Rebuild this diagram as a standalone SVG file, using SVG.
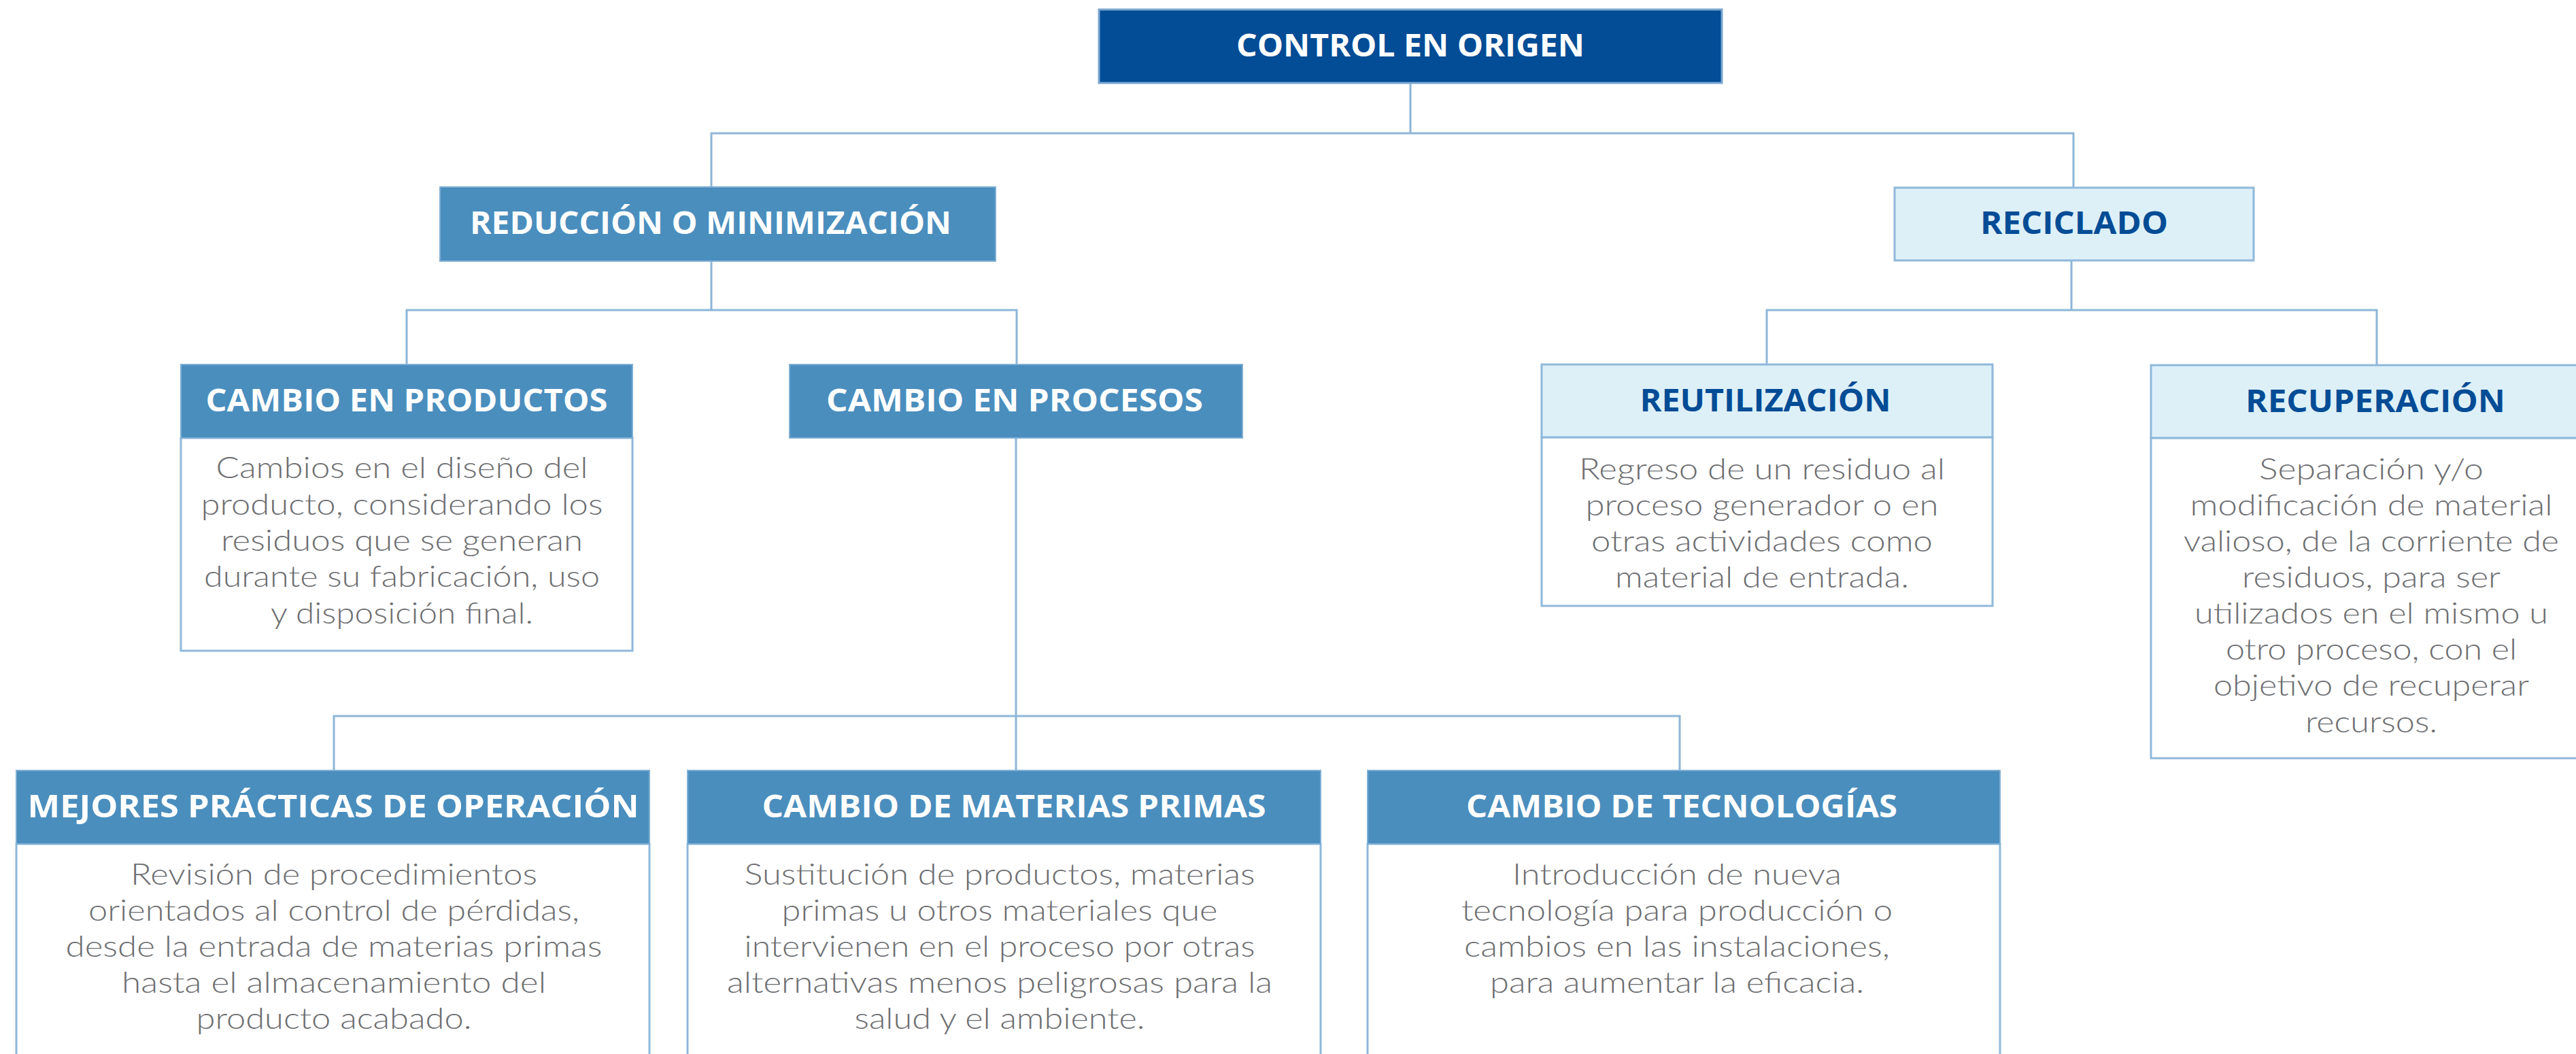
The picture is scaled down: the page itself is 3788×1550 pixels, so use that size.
<svg xmlns="http://www.w3.org/2000/svg" width="3788" height="1550" viewBox="0 0 3788 1550">
<style>
.conn{fill:none;stroke:#8DB6D8;stroke-width:3}
.dark{fill:#034C96;stroke:#7BA7D0;stroke-width:3}
.mid{fill:#4A8EBE;stroke:#7FAFD3;stroke-width:2}
.light{fill:#DDF0F8;stroke:#8FB8DA;stroke-width:3}
.body{fill:#FFFFFF;stroke:#8FB8DA;stroke-width:3}
.h{font-family:"Open Sans","Liberation Sans",sans-serif;font-weight:700;font-size:46px;text-anchor:middle}
.hw{fill:#FFFFFF}
.hb{fill:#034C96}
.t{font-family:Lato,"Open Sans","Liberation Sans",sans-serif;font-weight:300;font-size:44px;fill:#6D6E71;text-anchor:middle}
</style>
<rect width="3788" height="1550" fill="#FFFFFF"/>
<g id="connectors">
<path class="conn" d="M2074 122V196M1046 275V196H3049V276"/>
<path class="conn" d="M1046 384V456M598 536V456H1495V536"/>
<path class="conn" d="M3046 383V456M2598 536V456H3495V537"/>
<path class="conn" d="M1494 644V1133M491 1133V1053H2470V1133"/>
</g>
<g id="control-en-origen">
<rect class="dark" x="1616" y="14" width="916" height="108"/>
<text class="h hw" x="2074" y="83" textLength="512" lengthAdjust="spacingAndGlyphs">CONTROL EN ORIGEN</text>
</g>
<g id="reduccion">
<rect class="mid" x="647" y="275" width="817" height="109"/>
<text class="h hw" x="1045" y="344" textLength="708" lengthAdjust="spacingAndGlyphs">REDUCCIÓN O MINIMIZACIÓN</text>
</g>
<g id="reciclado">
<rect class="light" x="2786" y="276" width="528" height="107"/>
<text class="h hb" x="3050" y="344" textLength="276" lengthAdjust="spacingAndGlyphs">RECICLADO</text>
</g>
<g id="cambio-productos">
<rect class="body" x="266" y="644" width="664" height="313"/>
<rect class="mid" x="266" y="536" width="664" height="108"/>
<text class="h hw" x="598" y="605" textLength="591" lengthAdjust="spacingAndGlyphs">CAMBIO EN PRODUCTOS</text>
<text class="t" x="591" y="703" textLength="547" lengthAdjust="spacingAndGlyphs">Cambios en el diseño del</text>
<text class="t" x="591" y="757" textLength="591" lengthAdjust="spacingAndGlyphs">producto, considerando los</text>
<text class="t" x="591" y="810" textLength="532" lengthAdjust="spacingAndGlyphs">residuos que se generan</text>
<text class="t" x="591" y="863" textLength="582" lengthAdjust="spacingAndGlyphs">durante su fabricación, uso</text>
<text class="t" x="591" y="917" textLength="386" lengthAdjust="spacingAndGlyphs">y disposición final.</text>
</g>
<g id="cambio-procesos">
<rect class="mid" x="1161" y="536" width="666" height="108"/>
<text class="h hw" x="1492" y="605" textLength="554" lengthAdjust="spacingAndGlyphs">CAMBIO EN PROCESOS</text>
</g>
<g id="reutilizacion">
<rect class="body" x="2267" y="643" width="663" height="248"/>
<rect class="light" x="2267" y="536" width="663" height="107"/>
<text class="h hb" x="2596" y="605" textLength="369" lengthAdjust="spacingAndGlyphs">REUTILIZACIÓN</text>
<text class="t" x="2591" y="705" textLength="538" lengthAdjust="spacingAndGlyphs">Regreso de un residuo al</text>
<text class="t" x="2591" y="758" textLength="519" lengthAdjust="spacingAndGlyphs">proceso generador o en</text>
<text class="t" x="2591" y="811" textLength="502" lengthAdjust="spacingAndGlyphs">otras actividades como</text>
<text class="t" x="2591" y="864" textLength="432" lengthAdjust="spacingAndGlyphs">material de entrada.</text>
</g>
<g id="recuperacion">
<rect class="body" x="3163" y="644" width="640" height="471"/>
<rect class="light" x="3163" y="537" width="640" height="107"/>
<text class="h hb" x="3493" y="606" textLength="382" lengthAdjust="spacingAndGlyphs">RECUPERACIÓN</text>
<text class="t" x="3487" y="705" textLength="330" lengthAdjust="spacingAndGlyphs">Separación y/o</text>
<text class="t" x="3487" y="758" textLength="533" lengthAdjust="spacingAndGlyphs">modificación de material</text>
<text class="t" x="3487" y="811" textLength="552" lengthAdjust="spacingAndGlyphs">valioso, de la corriente de</text>
<text class="t" x="3487" y="864" textLength="380" lengthAdjust="spacingAndGlyphs">residuos, para ser</text>
<text class="t" x="3487" y="917" textLength="520" lengthAdjust="spacingAndGlyphs">utilizados en el mismo u</text>
<text class="t" x="3487" y="970" textLength="428" lengthAdjust="spacingAndGlyphs">otro proceso, con el</text>
<text class="t" x="3487" y="1023" textLength="464" lengthAdjust="spacingAndGlyphs">objetivo de recuperar</text>
<text class="t" x="3487" y="1077" textLength="194" lengthAdjust="spacingAndGlyphs">recursos.</text>
</g>
<g id="mejores-practicas">
<rect class="body" x="24" y="1241" width="931" height="320"/>
<rect class="mid" x="24" y="1133" width="931" height="108"/>
<text class="h hw" x="490" y="1202" textLength="899" lengthAdjust="spacingAndGlyphs">MEJORES PRÁCTICAS DE OPERACIÓN</text>
<text class="t" x="491" y="1301" textLength="598" lengthAdjust="spacingAndGlyphs">Revisión de procedimientos</text>
<text class="t" x="491" y="1354" textLength="722" lengthAdjust="spacingAndGlyphs">orientados al control de pérdidas,</text>
<text class="t" x="491" y="1407" textLength="789" lengthAdjust="spacingAndGlyphs">desde la entrada de materias primas</text>
<text class="t" x="491" y="1460" textLength="624" lengthAdjust="spacingAndGlyphs">hasta el almacenamiento del</text>
<text class="t" x="491" y="1513" textLength="405" lengthAdjust="spacingAndGlyphs">producto acabado.</text>
</g>
<g id="cambio-materias">
<rect class="body" x="1011" y="1241" width="931" height="320"/>
<rect class="mid" x="1011" y="1133" width="931" height="108"/>
<text class="h hw" x="1491" y="1202" textLength="741" lengthAdjust="spacingAndGlyphs">CAMBIO DE MATERIAS PRIMAS</text>
<text class="t" x="1470" y="1301" textLength="751" lengthAdjust="spacingAndGlyphs">Sustitución de productos, materias</text>
<text class="t" x="1470" y="1354" textLength="641" lengthAdjust="spacingAndGlyphs">primas u otros materiales que</text>
<text class="t" x="1470" y="1407" textLength="751" lengthAdjust="spacingAndGlyphs">intervienen en el proceso por otras</text>
<text class="t" x="1470" y="1460" textLength="802" lengthAdjust="spacingAndGlyphs">alternativas menos peligrosas para la</text>
<text class="t" x="1470" y="1513" textLength="427" lengthAdjust="spacingAndGlyphs">salud y el ambiente.</text>
</g>
<g id="cambio-tecnologias">
<rect class="body" x="2011" y="1241" width="930" height="320"/>
<rect class="mid" x="2011" y="1133" width="930" height="108"/>
<text class="h hw" x="2473" y="1202" textLength="634" lengthAdjust="spacingAndGlyphs">CAMBIO DE TECNOLOGÍAS</text>
<text class="t" x="2466" y="1301" textLength="484" lengthAdjust="spacingAndGlyphs">Introducción de nueva</text>
<text class="t" x="2466" y="1354" textLength="634" lengthAdjust="spacingAndGlyphs">tecnología para producción o</text>
<text class="t" x="2466" y="1407" textLength="626" lengthAdjust="spacingAndGlyphs">cambios en las instalaciones,</text>
<text class="t" x="2466" y="1460" textLength="550" lengthAdjust="spacingAndGlyphs">para aumentar la eficacia.</text>
</g>
</svg>
